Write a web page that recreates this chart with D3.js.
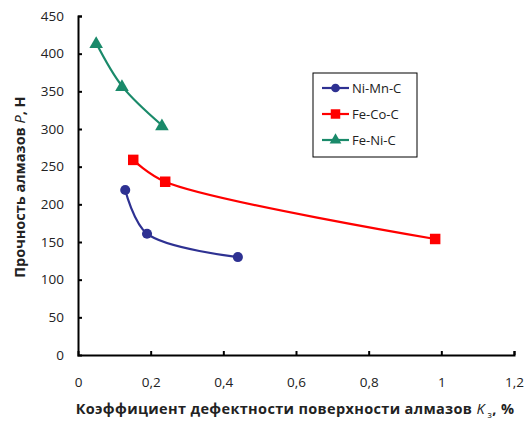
<!DOCTYPE html>
<html>
<head>
<meta charset="utf-8">
<script src="https://cdn.jsdelivr.net/npm/d3@7"></script>
<style>
  body { margin: 0; background: #fff; }
  svg { display: block; font-family: "Open Sans", "DejaVu Sans", sans-serif; }
</style>
</head>
<body>
<svg id="chart" width="527" height="421"></svg>
<script>
// Strength of diamonds vs. surface defect coefficient, three growth systems
const seriesNames = ["Ni-Mn-C", "Fe-Co-C", "Fe-Ni-C"];
const niMnK = [0.13, 0.19, 0.44];
const niMnP = [219, 161, 130];
const feCoK = [0.152, 0.24, 0.983];
const feCoP = [259, 230, 154];
const feNiK = [0.05, 0.121, 0.231];
const feNiP = [414, 357, 305];
const xTicks = [0, 0.2, 0.4, 0.6, 0.8, 1, 1.2];
const yTicks = [0, 50, 100, 150, 200, 250, 300, 350, 400, 450];
const colors = ["#2e3192", "#ff0000", "#1a8a6a"];
const symbols = [d3.symbolCircle, d3.symbolSquare, d3.symbolTriangle];

const series = [
  { name: seriesNames[0], k: niMnK, p: niMnP },
  { name: seriesNames[1], k: feCoK, p: feCoP },
  { name: seriesNames[2], k: feNiK, p: feNiP }
];

const svg = d3.select("#chart");
const plotLeft = 78, plotRight = 514, plotTop = 16, plotBottom = 355;

const x = d3.scaleLinear().domain([0, 1.2]).range([plotLeft, plotRight]);
const y = d3.scaleLinear().domain([0, 450]).range([plotBottom, plotTop]);

const fmt = d => String(d).replace(".", ",");

// axes with inward ticks
const xAxis = svg.append("g").attr("transform", `translate(0,${plotBottom})`)
  .call(d3.axisBottom(x).tickValues(xTicks).tickSize(-4).tickPadding(22).tickFormat(fmt));
const yAxis = svg.append("g").attr("transform", `translate(${plotLeft},0)`)
  .call(d3.axisLeft(y).tickValues(yTicks).tickSize(-4).tickPadding(14).tickFormat(fmt));
[xAxis, yAxis].forEach(a => {
  a.select(".domain").attr("stroke", "#000").attr("stroke-width", 2);
  a.selectAll(".tick line").attr("stroke", "#000").attr("stroke-width", 2);
  a.selectAll(".tick text").attr("fill", "#222").style("font-size", "13.5px")
    .style("font-family", "'Open Sans', sans-serif");
});
xAxis.select(".tick line").remove();
yAxis.select(".tick line").remove();

// smoothed lines and markers
const line = d3.line().curve(d3.curveCatmullRom.alpha(0.5));
series.forEach((s, i) => {
  const pts = s.k.map((k, j) => [x(k), y(s.p[j])]);
  svg.append("path").attr("d", line(pts)).attr("fill", "none")
    .attr("stroke", colors[i]).attr("stroke-width", 2.2);
  const size = i === 1 ? 110 : 80;
  svg.append("g").selectAll("path").data(pts).join("path")
    .attr("transform", d => `translate(${d[0]},${d[1] + (i === 2 ? 1 : 0)})`)
    .attr("d", d3.symbol().type(symbols[i]).size(size))
    .attr("fill", colors[i]);
});

// legend
const lg = svg.append("g").attr("transform", "translate(313,73)");
lg.append("rect").attr("width", 104).attr("height", 84).attr("fill", "#fff")
  .attr("stroke", "#000").attr("stroke-width", 1);
series.forEach((s, i) => {
  const yy = 15 + i * 26;
  lg.append("line").attr("x1", 9).attr("x2", 36).attr("y1", yy).attr("y2", yy)
    .attr("stroke", colors[i]).attr("stroke-width", 2.2);
  lg.append("path").attr("transform", `translate(22.5,${yy})`)
    .attr("d", d3.symbol().type(symbols[i]).size(i === 1 ? 90 : 60))
    .attr("fill", colors[i]);
  lg.append("text").attr("x", 39).attr("y", yy + 4.5).text(s.name)
    .style("font-size", "13px").attr("fill", "#222");
});

// axis titles
const xt = svg.append("text").attr("x", 295).attr("y", 414).attr("text-anchor", "middle")
  .style("font-size", "14.5px").style("font-weight", "bold").style("letter-spacing", "0.35px")
  .attr("fill", "#222");
xt.append("tspan").text("Коэффициент дефектности поверхности алмазов ");
xt.append("tspan").text("K").style("font-style", "italic").style("font-weight", "normal");
xt.append("tspan").text(" з").attr("dy", 4).style("font-size", "9px").style("font-weight", "normal");
xt.append("tspan").text(", %").attr("dy", -4);

const yt = svg.append("text").attr("transform", "translate(25,187) rotate(-90)")
  .attr("text-anchor", "middle").style("font-size", "14.5px").style("font-weight", "bold")
  .attr("fill", "#222");
yt.append("tspan").text("Прочность алмазов ");
yt.append("tspan").text("P").style("font-style", "italic").style("font-weight", "normal");
yt.append("tspan").text(", Н");
</script>
</body>
</html>
